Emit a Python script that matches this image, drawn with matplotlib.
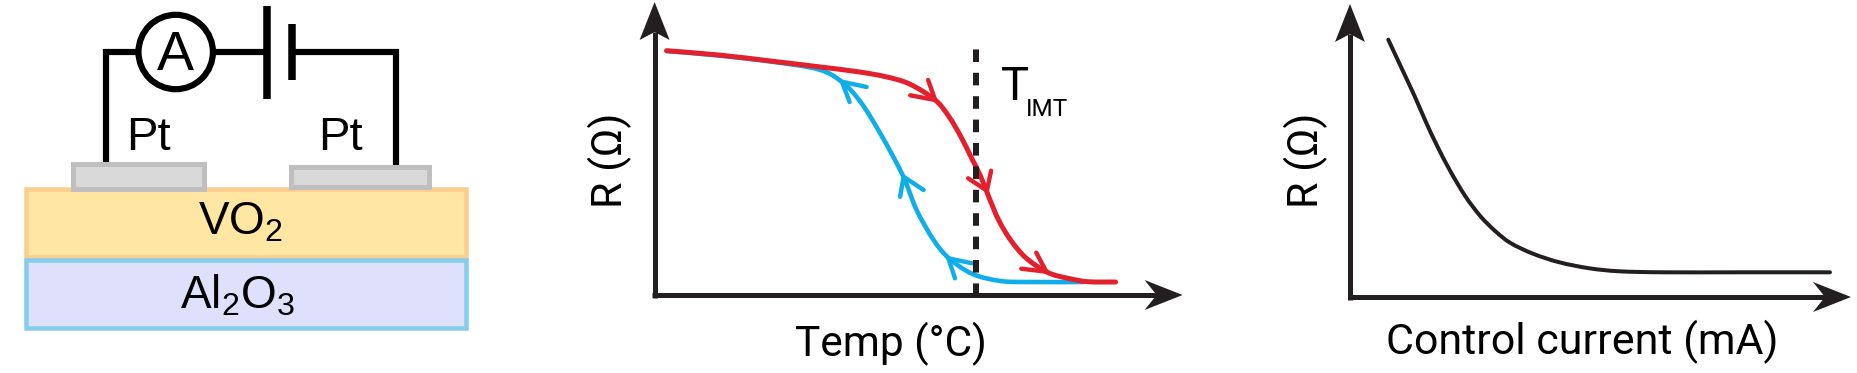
import matplotlib
matplotlib.use('Agg')
import matplotlib.pyplot as plt
from matplotlib.patches import Rectangle, Circle, Polygon, PathPatch
from matplotlib.path import Path

W, H = 1857, 373
PX = 0.72  # one pixel in points at dpi 100

plt.rcParams['mathtext.fontset'] = 'custom'
plt.rcParams['mathtext.rm'] = 'Liberation Sans'

# Temperature sweep, red = heating, blue = cooling
heat_temp = [12, 64, 116, 163.5, 203, 231, 255, 280.6, 294.4, 306.3, 316.3, 326.2, 334.1, 344, 356, 371.8, 393.7, 413.5, 433.3, 461]
heat_res = [244.3, 240, 234, 228.3, 223.3, 218.3, 211, 195, 178.3, 158.3, 138.3, 118.3, 98.3, 75, 55, 36.7, 22.3, 16.7, 13.3, 13]
cool_temp = [12, 64, 116, 163.5, 187, 206, 226, 248, 262, 279, 294.4, 318, 346, 374, 429]
cool_res = [244, 239.5, 233.5, 225.7, 213.3, 193, 161, 120, 85, 55, 36.7, 21, 14, 13, 13]
t_imt = 321

# Resistance against control current
current = [38.3, 51.5, 64.7, 75.9, 87.2, 100.4, 115.4, 130.5, 145.5, 160.5, 183, 209.4, 239.5, 269.5, 314.7, 389.8, 480]
current_res = [257.3, 229, 200.7, 175, 151, 125.7, 100.7, 80.7, 65.7, 54, 43.3, 34.7, 28.7, 25.7, 24.7, 24.7, 24.7]

# Direction marks on the curves: tip, barb, barb
heat_marks = [((280.6, 195), (255.6, 199.7), (273.5, 215)),
              ((332.3, 104.3), (313.6, 116.7), (336.5, 124.3)),
              ((391.7, 23.3), (366.7, 26.3), (381.7, 42.3))]
cool_marks = [((187.3, 213.3), (212, 208), (195, 193)),
              ((249, 118.3), (269, 105), (245.5, 98.3)),
              ((293.7, 36.7), (317.5, 31.7), (300.4, 16.7))]

RED = '#e3202e'
BLUE = '#10aee8'
DARK = '#231f20'

fig = plt.figure(figsize=(W / 100, H / 100), dpi=100)

# Device sketch, in picture pixels
ax = fig.add_axes([0, 0, 1, 1])
ax.set_xlim(0, W)
ax.set_ylim(H, 0)
ax.axis('off')

ax.add_patch(Rectangle((25.5, 188.5), 440, 68, fc='#ffe6a3', ec='#fbcd8e', lw=4.5 * PX))
ax.add_patch(Rectangle((25.5, 260), 440, 67.5, fc='#dfe0fb', ec='#84cdec', lw=4.5 * PX))
ax.add_patch(Rectangle((73, 164), 131, 25, fc='#d9d9d9', ec='#bfbfbf', lw=5 * PX))
ax.add_patch(Rectangle((290.5, 167), 138, 20, fc='#d9d9d9', ec='#bfbfbf', lw=5 * PX))

wire = dict(color='black', lw=6.2 * PX, solid_capstyle='butt', solid_joinstyle='miter')
ax.plot([105.5, 105.5, 138], [162, 52, 52], **wire)
ax.plot([214, 264], [52, 52], **wire)
ax.plot([295, 396, 396], [52, 52, 165], **wire)
ax.plot([266.5, 266.5], [6, 99], color='black', lw=7.5 * PX, solid_capstyle='butt')
ax.plot([291.5, 291.5], [24, 80], color='black', lw=7.5 * PX, solid_capstyle='butt')
ax.add_patch(Circle((175.7, 52), 37.2, fc='white', ec='black', lw=6.2 * PX))

sans = dict(family='Liberation Sans', color='black')
ax.text(175.7, 70, 'A', fontsize=40, ha='center', va='baseline', **sans)
ax.text(148, 150, 'Pt', fontsize=34, ha='center', va='baseline', **sans)
ax.text(340, 150, 'Pt', fontsize=34, ha='center', va='baseline', **sans)
ax.text(240, 235, r'VO$_{\mathrm{2}}$', fontsize=33, ha='center', va='baseline', **sans)
ax.text(237, 309, r'Al$_{\mathrm{2}}$O$_{\mathrm{3}}$', fontsize=33, ha='center', va='baseline', **sans)

# Axis labels and the T_IMT note
label = dict(family='Roboto', color='black')
ax.text(891, 356, 'Temp (°C)', fontsize=30.5, ha='center', va='baseline', **label)
ax.text(1582, 354, 'Control current (mA)', fontsize=31, ha='center', va='baseline', **label)
ax.text(632, 160, 'R (Ω)', fontsize=31, rotation=90, ha='right', va='center', **label)
ax.text(1328, 160, 'R (Ω)', fontsize=31, rotation=90, ha='right', va='center', **label)
ax.text(1001, 100, 'T', fontsize=34, ha='left', va='baseline', **label)
ax.text(1026, 116, 'IMT', fontsize=17.5, ha='left', va='baseline', **label)


def smooth_line(c, xs, ys, color, px):
    # Catmull-Rom curve through the points
    pts = list(zip(xs, ys))
    verts = [pts[0]]
    codes = [Path.MOVETO]
    for i in range(len(pts) - 1):
        p0 = pts[max(i - 1, 0)]
        p1 = pts[i]
        p2 = pts[i + 1]
        p3 = pts[min(i + 2, len(pts) - 1)]
        verts += [(p1[0] + (p2[0] - p0[0]) / 6, p1[1] + (p2[1] - p0[1]) / 6),
                  (p2[0] - (p3[0] - p1[0]) / 6, p2[1] - (p3[1] - p1[1]) / 6),
                  p2]
        codes += [Path.CURVE4] * 3
    c.add_patch(PathPatch(Path(verts, codes), fc='none', ec=color, lw=px * PX,
                          capstyle='round', joinstyle='round'))


def chart_axes(x0, y0, width, height):
    # axes whose data units run one pixel each from the origin of the arrows
    c = fig.add_axes([x0 / W, (H - y0) / H, width / W, height / H])
    c.set_xlim(0, width)
    c.set_ylim(0, height)
    c.patch.set_alpha(0)
    c.axis('off')
    c.plot([0, 0], [-2.5, height - 30], color=DARK, lw=5 * PX, solid_capstyle='butt', clip_on=False)
    c.plot([-2.5, width - 20], [0, 0], color=DARK, lw=5 * PX, solid_capstyle='butt', clip_on=False)
    c.add_patch(Polygon([(0, height), (-15, height - 38), (0, height - 30), (15, height - 38)],
                        fc=DARK, ec='none', clip_on=False))
    c.add_patch(Polygon([(width, 0), (width - 38, 15), (width - 26, 0), (width - 38, -15)],
                        fc=DARK, ec='none', clip_on=False))
    return c


# Temperature panel
c1 = chart_axes(654.6, 295, 528, 293)
smooth_line(c1, cool_temp, cool_res, BLUE, 4.6)
smooth_line(c1, heat_temp, heat_res, RED, 5)
for marks, col in [(heat_marks, RED), (cool_marks, BLUE)]:
    for tip, a, b in marks:
        c1.plot([a[0], tip[0], b[0]], [a[1], tip[1], b[1]], color=col, lw=4.4 * PX,
                solid_capstyle='round', solid_joinstyle='miter')
c1.plot([t_imt, t_imt], [-1, 255], color=DARK, lw=6 * PX, linestyle=(0, (2.1, 1.8)))

# Control current panel
c2 = chart_axes(1350, 297, 501, 293)
smooth_line(c2, current, current_res, DARK, 4)

fig.savefig('out.png', dpi=100, facecolor='white')
